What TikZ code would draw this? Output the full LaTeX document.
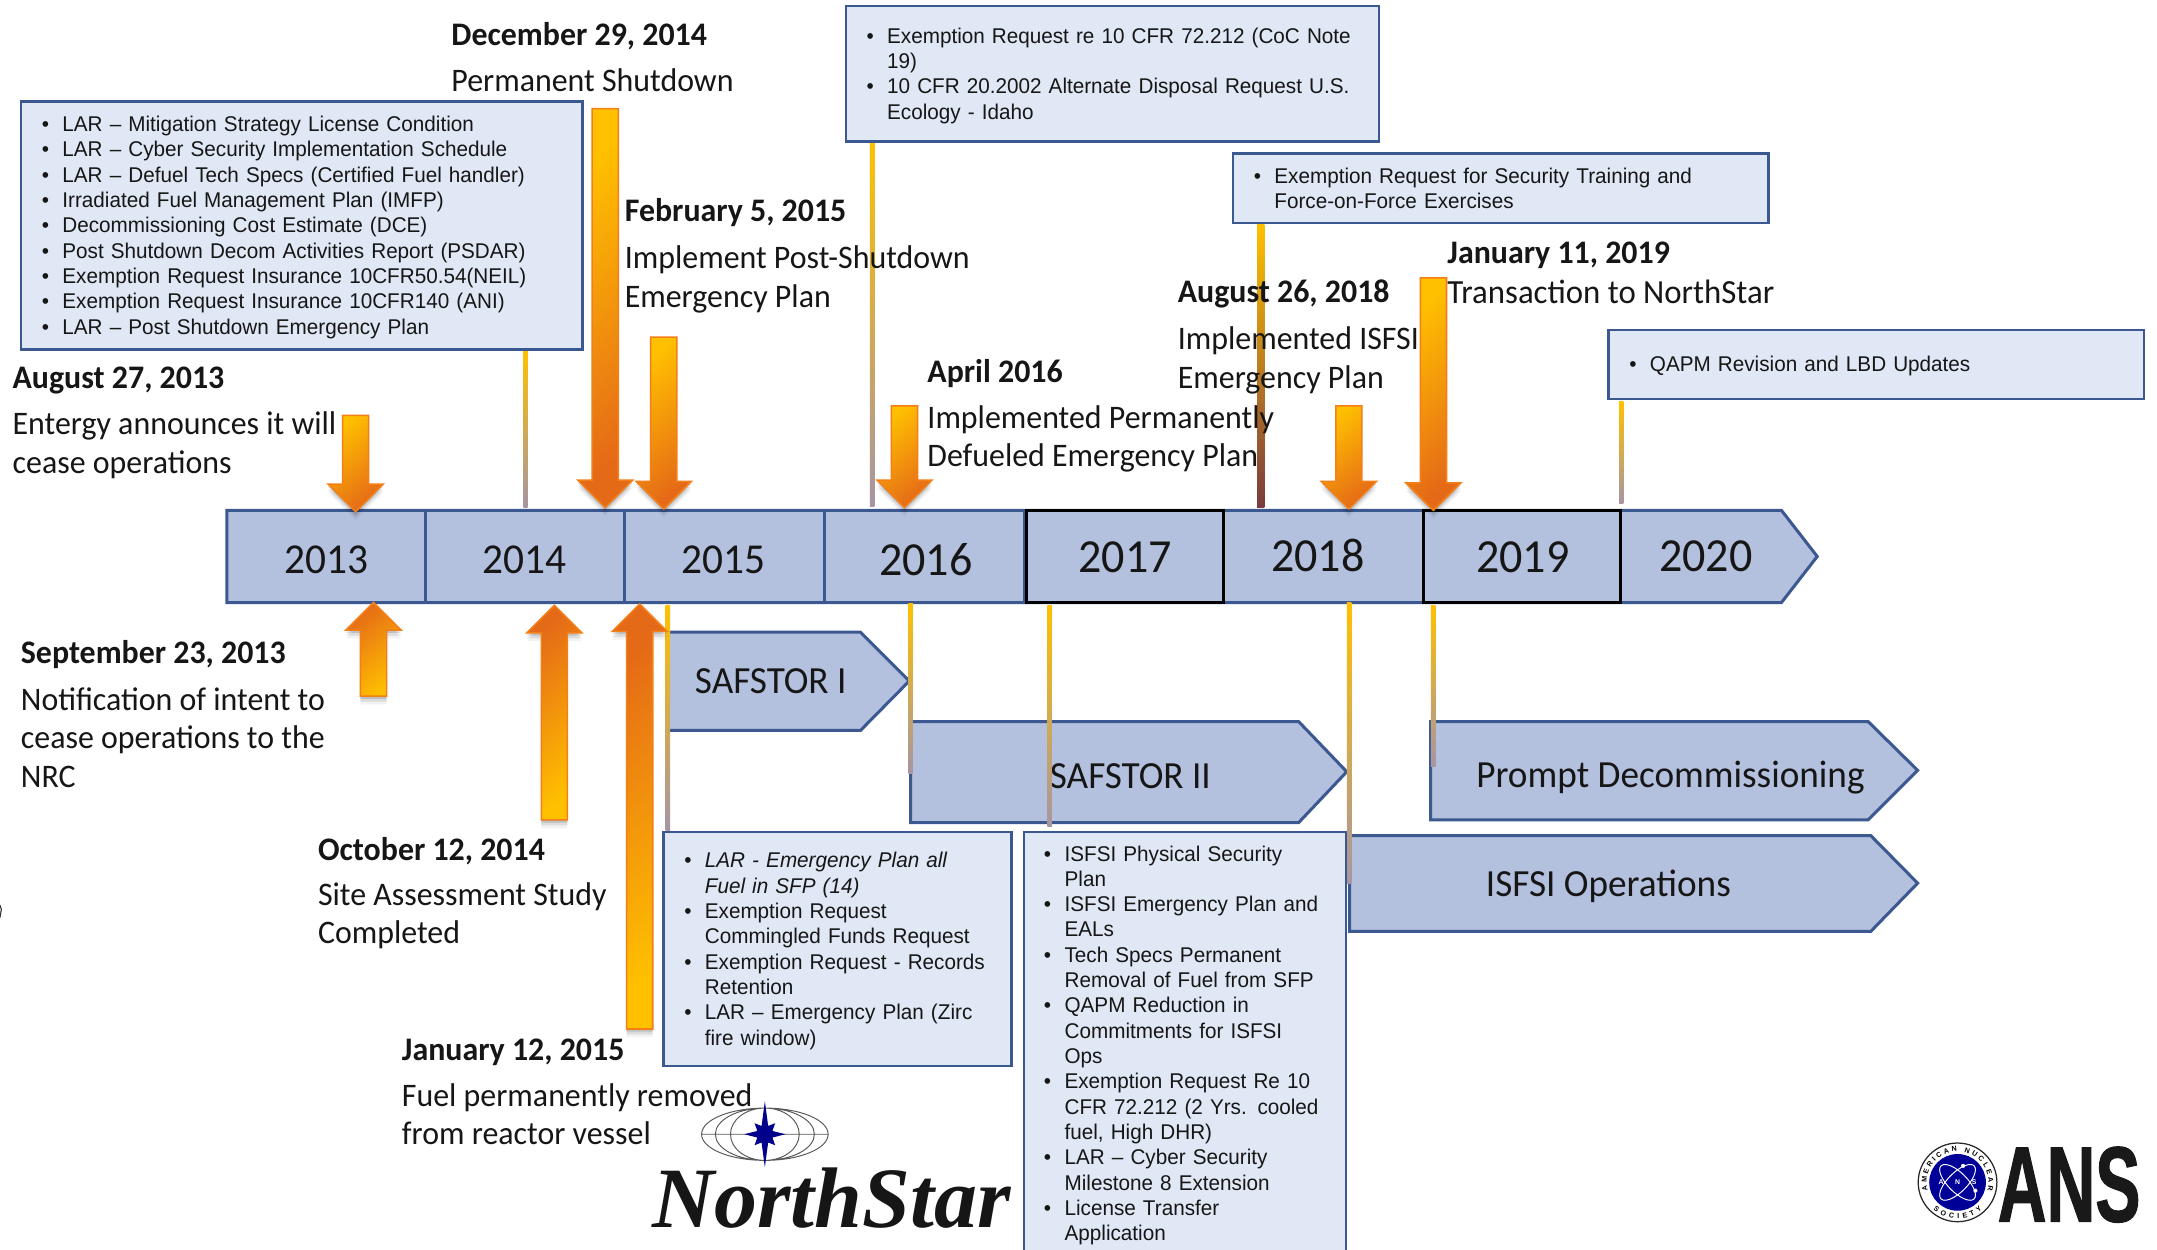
\documentclass[tikz,border=0pt]{standalone}
\usepackage{fontspec}
\usetikzlibrary{calc,decorations.text}
\setmainfont{Carlito}
\newfontfamily\labfont[FakeStretch=.97]{Carlito}
\newfontfamily\boxfont[FakeStretch=.97,WordSpace=1.5]{Liberation Sans}
\newfontfamily\nsfont{Liberation Serif}
\newfontfamily\ansfont[FakeStretch=.63,FakeBold=1]{Liberation Sans}
\newfontfamily\ringfont{Liberation Sans}
\definecolor{edgeblue}{HTML}{3C5890}
\definecolor{barfill}{HTML}{B4C1DE}
\definecolor{boxfill}{HTML}{DFE8F4}
\definecolor{arrowedge}{HTML}{F57F17}
\definecolor{ayellow}{HTML}{FFC000}
\definecolor{aorange}{HTML}{E56A17}
\definecolor{lyellow}{HTML}{FFC000}
\definecolor{lgrey}{HTML}{A695A3}
\definecolor{lmaroon}{HTML}{7A3B3F}
\definecolor{inktext}{HTML}{161616}
\tikzset{
  infobox/.style={draw=edgeblue,fill=boxfill,line width=1.8pt,anchor=north west,inner xsep=15pt,inner ysep=3pt,
    font=\boxfont\fontsize{15.5}{18.4}\selectfont,align=left,text=inktext},
  datelabel/.style={anchor=north west,inner sep=0pt,align=left,text=inktext,font=\labfont\bfseries\fontsize{23.9}{28}\selectfont},
  desclabel/.style={anchor=north west,inner sep=0pt,align=left,text=inktext,font=\labfont\fontsize{23.9}{28}\selectfont},
  yearsmall/.style={inner sep=0pt,text=inktext,font=\labfont\fontsize{31}{32}\selectfont},
  yearbig/.style={inner sep=0pt,text=inktext,font=\labfont\fontsize{34.5}{36}\selectfont},
  barshape/.style={draw=edgeblue,fill=barfill,line width=2.2pt,line join=miter},
  phaselabel/.style={inner sep=0pt,text=inktext,font=\labfont\fontsize{27.9}{30}\selectfont},
  blockarrow/.style={draw=arrowedge,line width=1.1pt,top color=ayellow,bottom color=aorange,shading angle=40},
  blockarrowup/.style={draw=arrowedge,line width=1.1pt,top color=aorange,bottom color=ayellow,shading angle=40},
  soft/.style={fill=black,draw=none}
}
\newcommand\itm[1]{\rule{0pt}{14pt}\makebox[15pt][l]{•}\mbox{#1}}
\newcommand\cnt[1]{\hspace*{15pt}\mbox{#1}}
\newcommand\downarr[4]{% name, x, top, tip
  \coordinate (#1-tail) at (#2,#3);
  \coordinate (#1-tip) at (#2,#4);
  \foreach \o/\q in {2/.13,4/.09,6/.05}{
    \fill[soft,opacity=\q,yshift=-\o pt] (#2-9.5,#3) -- (#2+9.5,#3) -- (#2+9.5,#4-20) -- (#2+20,#4-20) -- (#2,#4) -- (#2-20,#4-20) -- (#2-9.5,#4-20) -- cycle;}
  \shadedraw[blockarrow] (#2-9.5,#3) -- (#2+9.5,#3) -- (#2+9.5,#4-20) -- (#2+20,#4-20) -- (#2,#4) -- (#2-20,#4-20) -- (#2-9.5,#4-20) -- cycle;
}
\newcommand\uparr[4]{% name, x, tail, tip
  \coordinate (#1-tail) at (#2,#3);
  \coordinate (#1-tip) at (#2,#4);
  \foreach \o/\q in {2/.13,4/.09,6/.05}{
    \fill[soft,opacity=\q,yshift=-\o pt] (#2-9.5,#3) -- (#2+9.5,#3) -- (#2+9.5,#4+20) -- (#2+20,#4+20) -- (#2,#4) -- (#2-20,#4+20) -- (#2-9.5,#4+20) -- cycle;}
  \shadedraw[blockarrowup] (#2-9.5,#3) -- (#2+9.5,#3) -- (#2+9.5,#4+20) -- (#2+20,#4+20) -- (#2,#4) -- (#2-20,#4+20) -- (#2-9.5,#4+20) -- cycle;
}
\newcommand\gradline[6]{% name, x, y1, y2, halfwidth, bottom colour
  \coordinate (#1-a) at (#2,#3);
  \coordinate (#1-b) at (#2,#4);
  \shade[top color=lyellow,bottom color=#6] ($(#1-a)+(-#5,0)$) rectangle ($(#1-b)+(#5,0)$);
}
\begin{document}
\begin{tikzpicture}[x=1pt,y=-1pt]
\path[use as bounding box,clip] (0,0) rectangle (1568,908);
\fill[white] (0,0) rectangle (1568,908);

% timeline
\draw[barshape] (165,371) -- (1295,371) -- (1321,404.5) -- (1295,438) -- (165,438) -- cycle;
\coordinate (d1t) at (309,371); \coordinate (d1b) at (309,438);
\coordinate (d2t) at (454,371); \coordinate (d2b) at (454,438);
\coordinate (d3t) at (599,371); \coordinate (d3b) at (599,438);
\coordinate (d4t) at (745,371); \coordinate (d4b) at (745,438);
\draw[edgeblue,line width=2.2pt] (d1t)--(d1b) (d2t)--(d2b) (d3t)--(d3b) (d4t)--(d4b);
\draw[black,line width=2.4pt] (746,371) rectangle (889.5,438);
\draw[black,line width=2.4pt] (1035,371) rectangle (1178,438);

\node[yearsmall] (y13) at (237,407) {2013};
\node[yearsmall] (y14) at (381,407) {2014};
\node[yearsmall] (y15) at (526,407) {2015};
\node[yearbig] (y16) at (673,407) {2016};
\node[yearbig] (y17) at (818,405) {2017};
\node[yearbig] (y18) at (958,404) {2018};
\node[yearbig] (y19) at (1107,405) {2019};
\node[yearbig] (y20) at (1240,404) {2020};

% phase chevrons
\draw[barshape] (487,459.5) -- (625.5,459.5) -- (661,495) -- (625.5,531) -- (487,531);
\draw[barshape] (662,524.5) -- (944,524.5) -- (979,561) -- (944,598) -- (662,598) -- cycle;
\draw[barshape] (1040,524.5) -- (1358,524.5) -- (1394,560) -- (1358,596) -- (1040,596) -- cycle;
\draw[barshape] (981,607.5) -- (1360,607.5) -- (1394,642) -- (1360,677) -- (981,677) -- cycle;
\node[phaselabel,anchor=west] (ph1) at (505,495) {SAFSTOR I};
\node[phaselabel,anchor=west] (ph2) at (763,564) {SAFSTOR II};
\node[phaselabel,anchor=west] (ph3) at (1073,565) {Prompt Decommissioning};
\node[phaselabel,anchor=west] (ph4) at (1080,644) {ISFSI Operations};

% thin leader lines
\gradline{l1}{382}{254}{369}{1.6}{lgrey}
\gradline{l2}{634}{103}{368}{1.6}{lgrey}
\gradline{l3}{916.5}{163}{369}{2.6}{lmaroon}
\gradline{l4}{1178.5}{292}{366}{1.6}{lgrey}
\gradline{l5}{485.5}{440}{604}{1.6}{lgrey}
\gradline{l6}{662}{439}{562}{1.6}{lgrey}
\gradline{l7}{763}{440}{601}{1.6}{lgrey}
\gradline{l8}{980.7}{438}{642}{1.6}{lgrey}
\gradline{l9}{1041.8}{440}{557}{1.6}{lgrey}

% block arrows
\downarr{a1}{258.5}{302}{372}
\downarr{a2}{440}{79}{369}
\downarr{a3}{482.5}{245}{370}
\downarr{a4}{657.5}{295}{369}
\downarr{a5}{980.5}{295}{370}
\downarr{a6}{1042}{202}{371}
\uparr{u1}{271.5}{506}{438}
\uparr{u2}{403}{596}{440}
\uparr{u3}{465}{748}{439}

% information boxes
\node[infobox,minimum width=408pt,minimum height=180pt,text width=378pt] (b1) at (14.5,73) {%
\itm{LAR – Mitigation Strategy License Condition}\\
\itm{LAR – Cyber Security Implementation Schedule}\\
\itm{LAR – Defuel Tech Specs (Certified Fuel handler)}\\
\itm{Irradiated Fuel Management Plan (IMFP)}\\
\itm{Decommissioning Cost Estimate (DCE)}\\
\itm{Post Shutdown Decom Activities Report (PSDAR)}\\
\itm{Exemption Request Insurance 10CFR50.54(NEIL)}\\
\itm{Exemption Request Insurance 10CFR140 (ANI)}\\
\itm{LAR – Post Shutdown Emergency Plan}};
\node[infobox,minimum width=387.5pt,minimum height=98.5pt,text width=357.5pt] (b2) at (614,3.5) {%
\itm{Exemption Request re 10 CFR 72.212 (CoC Note}\\
\cnt{19)}\\
\itm{10 CFR 20.2002 Alternate Disposal Request U.S.}\\
\cnt{Ecology - Idaho}};
\node[infobox,inner ysep=2pt,minimum width=389pt,minimum height=50.5pt,text width=359pt] (b3) at (895.5,110.6) {%
\rule{0pt}{12pt}\makebox[15pt][l]{•}\mbox{Exemption Request for Security Training and}\\
\cnt{Force-on-Force Exercises}};
\node[infobox,minimum width=389pt,minimum height=50pt,text width=359pt] (b4) at (1168.5,239) {%
\itm{QAPM Revision and LBD Updates}};
\node[infobox,minimum width=253pt,minimum height=170pt,text width=223pt] (b5) at (481.5,604) {%
\itm{\itshape LAR - Emergency Plan all}\\
\cnt{\itshape Fuel in SFP (14)}\\
\itm{Exemption Request}\\
\cnt{Commingled Funds Request}\\
\itm{Exemption Request - Records}\\
\cnt{Retention}\\
\itm{LAR – Emergency Plan (Zirc}\\
\cnt{fire window)}};
\node[infobox,inner ysep=7pt,inner xsep=14.5pt,minimum width=234pt,text width=205pt] (b6) at (743.5,604) {%
\itm{ISFSI Physical Security}\\
\cnt{Plan}\\
\itm{ISFSI Emergency Plan and}\\
\cnt{EALs}\\
\itm{Tech Specs Permanent}\\
\cnt{Removal of Fuel from SFP}\\
\itm{QAPM Reduction in}\\
\cnt{Commitments for ISFSI}\\
\cnt{Ops}\\
\itm{Exemption Request Re 10}\\
\cnt{CFR 72.212 (2 Yrs. cooled}\\
\cnt{fuel, High DHR)}\\
\itm{LAR – Cyber Security}\\
\cnt{Milestone 8 Extension}\\
\itm{License Transfer}\\
\cnt{Application}};

% date and description labels
\node[datelabel] (t1) at (9,265) {\rule{0pt}{17pt}August 27, 2013};
\node[desclabel] (d1) at (9,299) {\rule{0pt}{17pt}Entergy announces it will\\cease operations};
\node[datelabel] (t2) at (328,16) {\rule{0pt}{17pt}December 29, 2014};
\node[desclabel] (d2) at (328,49) {\rule{0pt}{17pt}Permanent Shutdown};
\node[datelabel] (t3) at (454,144) {\rule{0pt}{17pt}February 5, 2015};
\node[desclabel] (d3) at (454,178) {\rule{0pt}{17pt}Implement Post-Shutdown\\Emergency Plan};
\node[datelabel] (t4) at (674,261) {\rule{0pt}{17pt}April 2016};
\node[desclabel] (d4) at (674,294) {\rule{0pt}{17pt}Implemented Permanently\\Defueled Emergency Plan};
\node[datelabel] (t5) at (856,203) {\rule{0pt}{17pt}August 26, 2018};
\node[desclabel] (d5) at (856,237) {\rule{0pt}{17pt}Implemented ISFSI\\Emergency Plan};
\node[datelabel] (t6) at (1052,174) {\rule{0pt}{17pt}January 11, 2019};
\node[desclabel,font=\labfont\fontsize{24.6}{28}\selectfont] (d6) at (1052,203) {\rule{0pt}{17pt}Transaction to NorthStar};
\node[datelabel] (t7) at (15,465) {\rule{0pt}{17pt}September 23, 2013};
\node[desclabel] (d7) at (15,499) {\rule{0pt}{17pt}Notification of intent to\\cease operations to the\\NRC};
\node[datelabel] (t8) at (231,608) {\rule{0pt}{17pt}October 12, 2014};
\node[desclabel] (d8) at (231,641) {\rule{0pt}{17pt}Site Assessment Study\\Completed};
\node[datelabel] (t9) at (292,754) {\rule{0pt}{17pt}January 12, 2015};
\node[desclabel] (d9) at (292,787) {\rule{0pt}{17pt}Fuel permanently removed\\from reactor vessel};

% NorthStar logo
\begin{scope}[shift={(556,824.5)}]
  \draw[black!65,line width=.7pt] (0,0) ellipse (46 and 19) (0,0) ellipse (36 and 19) (0,0) ellipse (25 and 19) (-46,0) -- (46,0);
  \fill[blue!55!black] (0,-24) -- (2.4,-6) -- (7.5,-8) -- (5.5,-2.4) -- (15,0) -- (5.5,2.4) -- (7.5,8) -- (2.4,6) -- (0,24) -- (-2.4,6) -- (-7.5,8) -- (-5.5,2.4) -- (-15,0) -- (-5.5,-2.4) -- (-7.5,-8) -- (-2.4,-6) -- cycle;
\end{scope}
\node[anchor=base west,inner sep=0pt,text=inktext,font=\nsfont\bfseries\itshape\fontsize{62.5}{64}\selectfont] (nslogo) at (474,892) {NorthStar};

% ANS logo
\begin{scope}[shift={(1423,859.5)},x=1pt,y=1pt]
  \draw[black!85,fill=white,line width=.9pt] (0,0) circle (28.6);
  \fill[blue!60!black] (0,0) circle (20.6);
  \draw[white,line width=.7pt,rotate=45] (0,0) ellipse (17 and 7);
  \draw[white,line width=.7pt,rotate=-45] (0,0) ellipse (17 and 7);
  \fill[white] (4,12) circle (1.5) (13,-6) circle (1.5);
  \node[inner sep=0pt,text=white,font=\ringfont\bfseries\fontsize{5}{5}\selectfont] (ansa) at (-12,0) {A};
  \node[inner sep=0pt,text=white,font=\ringfont\bfseries\fontsize{5}{5}\selectfont] (ansn) at (0,0) {N};
  \node[inner sep=0pt,text=white,font=\ringfont\bfseries\fontsize{5}{5}\selectfont] (anss) at (12,0) {S};
  \path[decorate,decoration={text along path,text align=fit to path,text={|\ringfont\bfseries\fontsize{5.2}{6}\selectfont|AMERICAN NUCLEAR}}] (195:22.4) arc (195:-15:22.4);
  \path[decorate,decoration={text along path,text align=fit to path,text={|\ringfont\bfseries\fontsize{5.2}{6}\selectfont|SOCIETY}}] (228:26.6) arc (228:312:26.6);
\end{scope}
\node[anchor=base west,inner sep=0pt,text=black!90,font=\ansfont\bfseries\fontsize{78}{80}\selectfont] (anslogo) at (1452,888) {ANS};

% stray edge mark
\draw[black!80,line width=.8pt] (0,658) -- (1,661) -- (0,667);
\end{tikzpicture}
\end{document}
